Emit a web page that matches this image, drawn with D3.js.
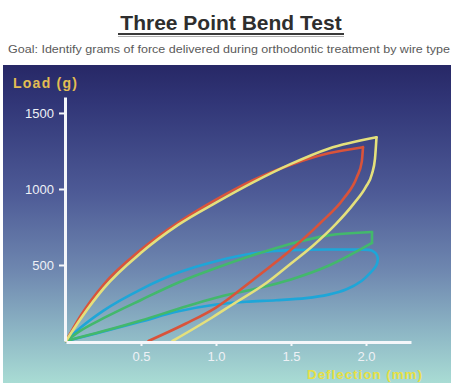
<!DOCTYPE html>
<html>
<head>
<meta charset="utf-8">
<script src="https://cdn.jsdelivr.net/npm/d3@7"></script>
<style>
html,body{margin:0;padding:0;background:#fff;}
svg{display:block;}
</style>
</head>
<body>
<svg id="c" width="453" height="383"></svg>
<script>
// ---- data ----
const title = "Three Point Bend Test";
const subtitle = "Goal: Identify grams of force delivered during orthodontic treatment by wire type";
const yLabel = "Load (g)";
const xLabel = "Deflection (mm)";
const yTicks = [500, 1000, 1500];
const xTicks = [0.5, 1.0, 1.5, 2.0];

// each wire: segments of [deflection mm, load g]
const redLoading = [[0,0],[0.1,170],[0.25,370],[0.5,600],[0.75,780],[1.0,930],[1.25,1060],[1.5,1160],[1.75,1235],[1.98,1275]];
const redUnloading = [[0.55,0],[0.8,115],[1.0,220],[1.25,405],[1.5,600],[1.7,780],[1.85,935],[1.94,1080],[1.972,1180],[1.98,1275]];
const yellowLoading = [[0,0],[0.1,150],[0.25,345],[0.5,580],[0.75,765],[1.0,910],[1.25,1045],[1.5,1165],[1.75,1265],[2.07,1340]];
const yellowUnloading = [[0.71,0],[0.98,158],[1.11,240],[1.34,385],[1.5,510],[1.65,630],[1.8,770],[1.92,905],[2.0,1015],[2.04,1100],[2.06,1200],[2.07,1340]];
const greenLoading = [[0,0],[0.1,70],[0.25,150],[0.5,270],[0.75,385],[1.0,480],[1.25,565],[1.5,640],[1.75,695],[2.04,717]];
const greenDrop = [[2.04,717],[2.04,645]];
const greenUnloading = [[0,0],[0.25,65],[0.5,135],[0.75,212],[1.0,285],[1.25,340],[1.5,405],[1.75,495],[2.04,645]];
const blueLoading = [[0,0],[0.1,90],[0.25,200],[0.5,340],[0.75,450],[1.0,525],[1.25,577],[1.5,598],[1.75,602],[1.98,601]];
const blueUnloading = [[1.98,601],[2.04,594],[2.075,560],[2.07,500],[2.03,450],[1.97,395],[1.87,340],[1.75,305],[1.6,282],[1.4,268],[1.2,258],[1.0,240],[0.75,195],[0.5,128],[0.25,62],[0,0]];

const wires = [
  {name:"blue",   color:"#1ea6d8", segs:[[blueLoading,"m"],[blueUnloading,"c"]]},
  {name:"green",  color:"#43b86c", segs:[[greenLoading,"m"],[greenDrop,"l"],[greenUnloading,"m"]]},
  {name:"red",    color:"#d9533a", segs:[[redLoading,"m"],[redUnloading,"m"]]},
  {name:"yellow", color:"#e4e07c", segs:[[yellowLoading,"m"],[yellowUnloading,"m"]]}
];

// ---- drawing ----
const svg = d3.select("#c");
const defs = svg.append("defs");
const g = defs.append("linearGradient").attr("id","bg").attr("x1",0).attr("y1",0).attr("x2",0).attr("y2",1);
[["0%","#272866"],["12%","#313677"],["40%","#4d5a96"],["65%","#6f88b0"],["85%","#8fb9c6"],["100%","#a9dcd4"]]
  .forEach(([o,c])=>g.append("stop").attr("offset",o).attr("stop-color",c));

svg.append("rect").attr("x",0).attr("y",0).attr("width",453).attr("height",383).attr("fill","#ffffff");
svg.append("rect").attr("x",3).attr("y",65).attr("width",448).attr("height",318).attr("fill","url(#bg)");

const font = "Liberation Sans, Arial, sans-serif";
// title
svg.append("text").attr("x",231).attr("y",30).attr("text-anchor","middle")
  .attr("font-family",font).attr("font-weight","bold")
  .attr("font-size",21).attr("fill","#2e2e2e").text(title);
svg.append("line").attr("x1",118).attr("x2",344).attr("y1",34).attr("y2",34).attr("stroke","#3a3a3a").attr("stroke-width",2);
svg.append("line").attr("x1",118).attr("x2",344).attr("y1",36.5).attr("y2",36.5).attr("stroke","#b0b0b0").attr("stroke-width",1);
svg.append("text").attr("x",8).attr("y",53)
  .attr("font-family",font).attr("font-size",10)
  .attr("textLength",442).attr("lengthAdjust","spacingAndGlyphs")
  .attr("fill","#5a5a5a").text(subtitle);

const x = d3.scaleLinear().domain([0,2.3]).range([66,411]);
const y = d3.scaleLinear().domain([0,1605]).range([341,97]);

const curves = {m:d3.curveMonotoneX, c:d3.curveCatmullRom.alpha(0.5), l:d3.curveLinear};

const plot = svg.append("g");
wires.forEach(w=>{
  w.segs.forEach(([s,k])=>{
    const line = d3.line().x(d=>x(d[0])).y(d=>y(d[1])).curve(curves[k]);
    plot.append("path").attr("d",line(s)).attr("fill","none")
      .attr("stroke",w.color).attr("stroke-width",2.6).attr("stroke-linecap","round").attr("stroke-linejoin","round");
  });
});

// axes
const ya = svg.append("g").attr("transform",`translate(${x(0)-1},0)`)
  .call(d3.axisLeft(y).tickValues(yTicks).tickFormat(d3.format("d")).tickSize(6).tickSizeOuter(0).tickPadding(5));
const xa = svg.append("g").attr("transform",`translate(0,${y(0)+1})`)
  .call(d3.axisBottom(x).tickValues(xTicks).tickFormat(d3.format(".1f")).tickSize(4).tickSizeOuter(0).tickPadding(6));
[ya,xa].forEach(a=>{
  a.select(".domain").attr("stroke","#f4f6fa").attr("stroke-width",3);
  a.selectAll(".tick line").attr("stroke","#f4f6fa").attr("stroke-width",2);
  a.selectAll(".tick text").attr("fill","#eef1f6").attr("font-family",font).attr("font-size",13);
});

svg.append("text").attr("x",13).attr("y",88).attr("font-family",font).attr("font-weight","bold")
  .attr("font-size",14).attr("textLength",64).attr("fill","#e3bd52").text(yLabel);
svg.append("text").attr("x",307).attr("y",379).attr("font-family",font).attr("font-weight","bold")
  .attr("font-size",13.5).attr("textLength",115).attr("fill","#e6e044").text(xLabel);
</script>
</body>
</html>
